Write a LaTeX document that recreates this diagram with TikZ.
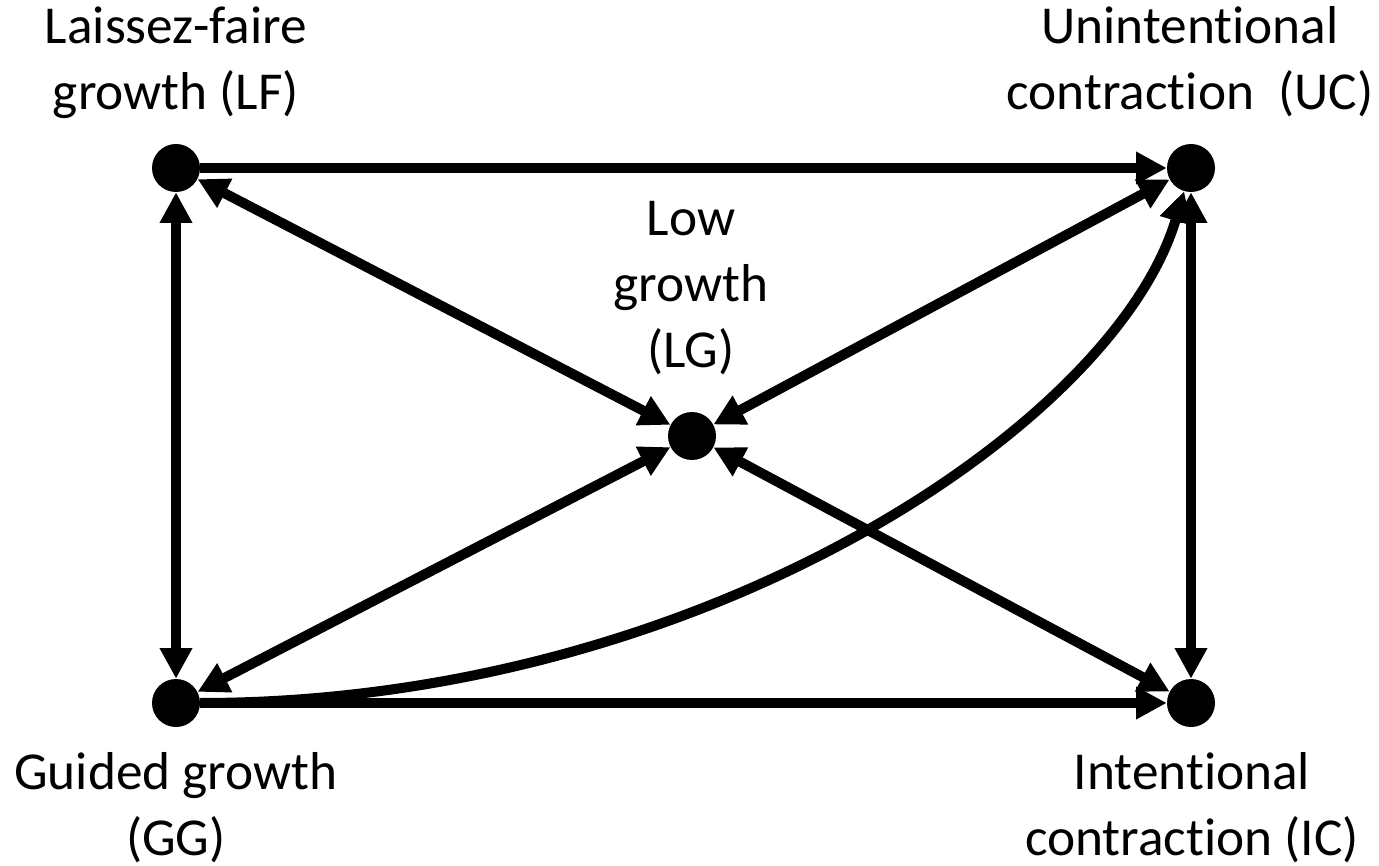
\documentclass[tikz,border=0pt]{standalone}
\usepackage{fontspec}
\setmainfont[Ligatures={NoCommon}]{Carlito}
\usetikzlibrary{arrows.meta}
\begin{document}
\begin{tikzpicture}[x=0.75pt,y=-0.75pt,
  dot/.style={circle,fill=black,inner sep=0pt,minimum size=36pt},
  lbl/.style={align=center,font=\fontsize{40}{49.5}\selectfont,inner sep=0pt,anchor=base},
  conn/.style={line width=7.5pt,-{Triangle[length=23pt,width=23pt]}},
  bconn/.style={line width=7.5pt,{Triangle[length=23pt,width=23pt]}-{Triangle[length=23pt,width=23pt]}}]
\useasboundingbox (0,0) rectangle (1379,866);
\node[dot] (LF) at (176,168) {};
\node[dot] (UC) at (1191,168) {};
\node[dot] (LG) at (692,436) {};
\node[dot] (GG) at (176,703) {};
\node[dot] (IC) at (1191,703) {};
\node[lbl] (tLF) at (176,110) {Laissez-faire\\growth (LF)};
\node[lbl] (tUC) at (1190,110) {Unintentional\\contraction~~(UC)};
\node[lbl] (tLG) at (691,368) {Low\\growth\\(LG)};
\node[lbl] (tGG) at (176,855) {Guided growth\\(GG)};
\node[lbl] (tIC) at (1192,855) {Intentional\\contraction (IC)};
\draw[conn] (LF) -- (UC);
\draw[conn] (GG) -- (IC);
\draw[bconn] (LF) -- (GG);
\draw[bconn] (UC) -- (IC);
\draw[bconn] (LF) -- (LG);
\draw[bconn] (UC) -- (LG);
\draw[bconn] (GG) -- (LG);
\draw[bconn] (IC) -- (LG);
\draw[conn] (GG) .. controls (700,703) and (1115,425) .. (UC);
\end{tikzpicture}
\end{document}
